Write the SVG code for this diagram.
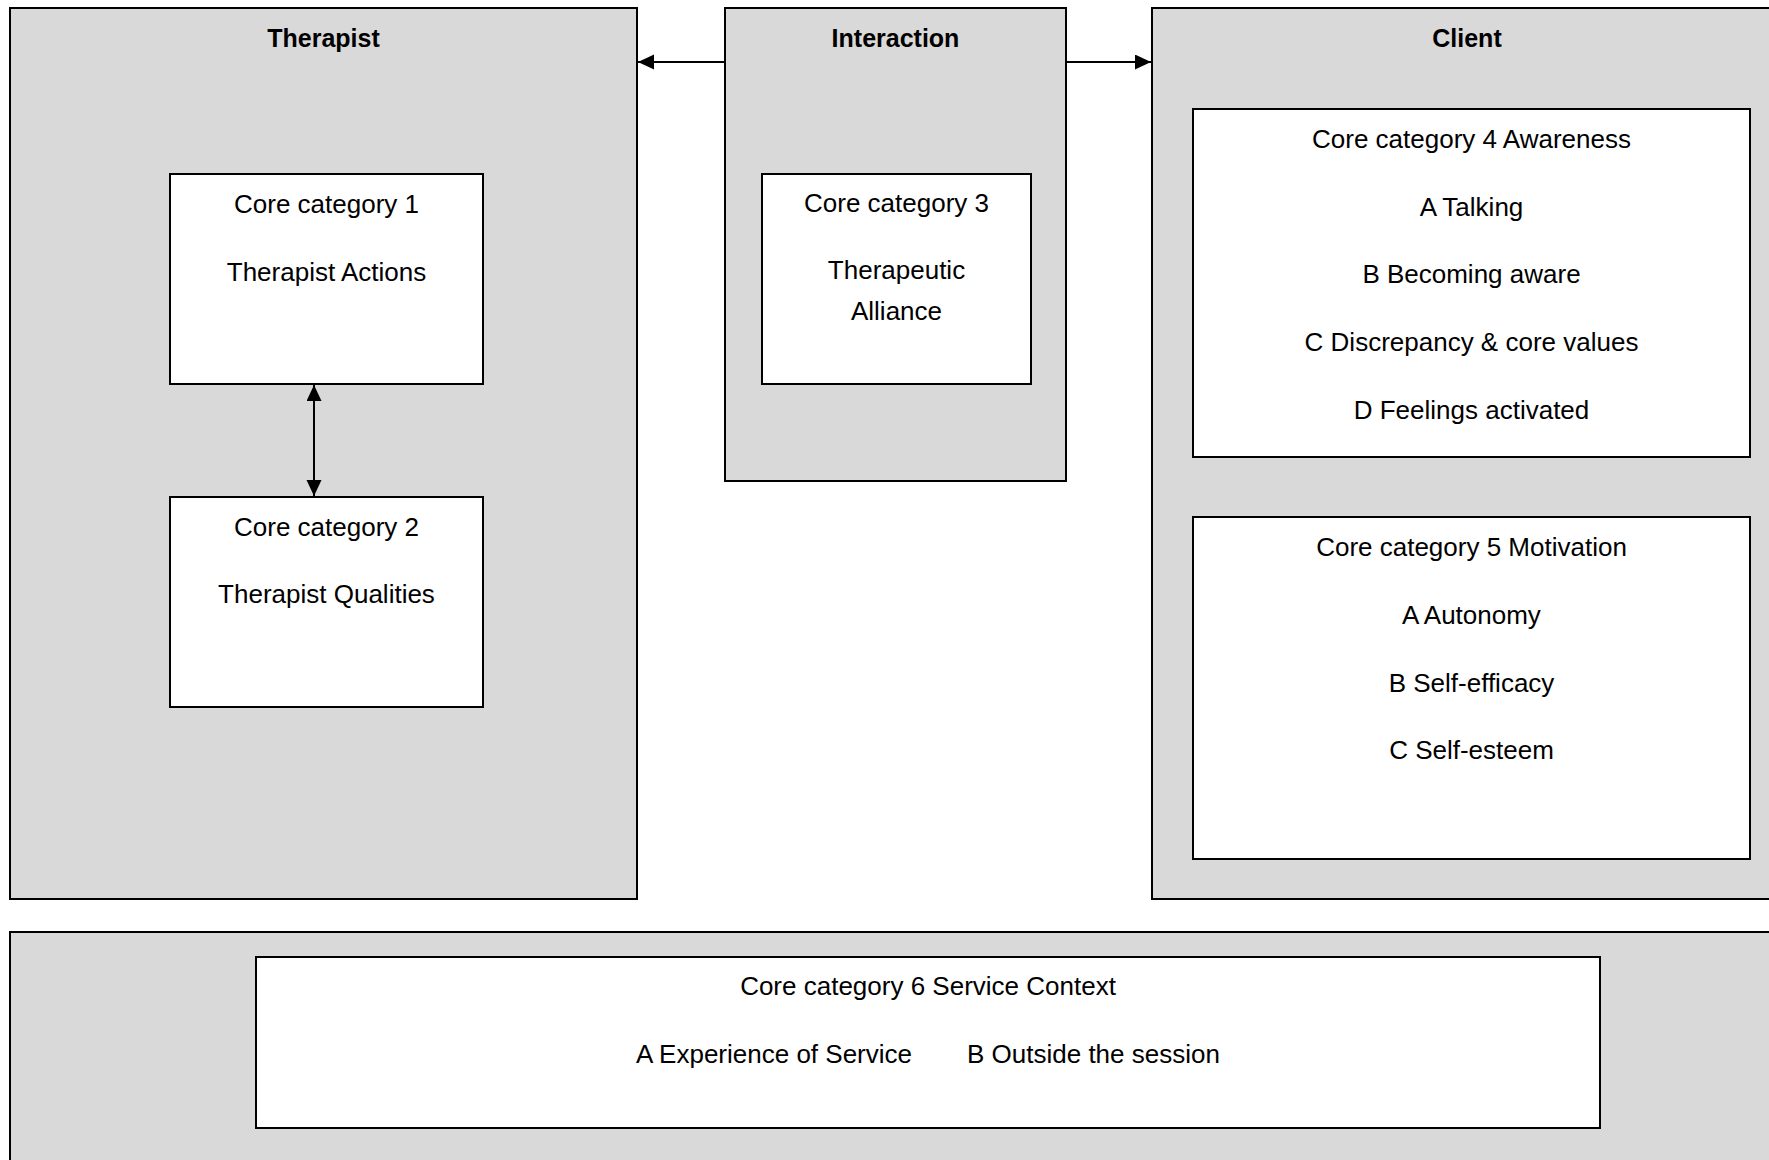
<svg xmlns="http://www.w3.org/2000/svg" width="1769" height="1160" viewBox="0 0 1769 1160">
<style>
.outer{fill:#d9d9d9;stroke:#000;stroke-width:2}
.inner{fill:#fff;stroke:#000;stroke-width:2}
text{font-family:"Liberation Sans",Arial,sans-serif;font-size:26px;fill:#000;text-anchor:middle}
.title{font-weight:bold;font-size:25px}
.conn{stroke:#000;stroke-width:2;fill:none}
</style>
<defs>
<marker id="ah" markerUnits="userSpaceOnUse" markerWidth="18" markerHeight="16" refX="16" refY="7.5" orient="auto-start-reverse">
<path d="M0,0 L16,7.5 L0,15 z" fill="#000"/>
</marker>
</defs>
<rect width="1769" height="1160" fill="#fff"/>
<g id="therapist">
<rect class="outer" x="10" y="8" width="627" height="891"/>
<text class="title" x="323.5" y="47">Therapist</text>
</g>
<g id="interaction">
<rect class="outer" x="725" y="8" width="341" height="473"/>
<text class="title" x="895.5" y="47">Interaction</text>
</g>
<g id="client">
<rect class="outer" x="1152" y="8" width="630" height="891"/>
<text class="title" x="1467" y="47">Client</text>
</g>
<g id="context">
<rect class="outer" x="10" y="932" width="1772" height="240"/>
</g>
<g id="core1">
<rect class="inner" x="170" y="174" width="313" height="210"/>
<text x="326.5" y="213">Core category 1</text>
<text x="326.5" y="281">Therapist Actions</text>
</g>
<g id="core2">
<rect class="inner" x="170" y="497" width="313" height="210"/>
<text x="326.5" y="536">Core category 2</text>
<text x="326.5" y="603">Therapist Qualities</text>
</g>
<g id="core3">
<rect class="inner" x="762" y="174" width="269" height="210"/>
<text x="896.5" y="212">Core category 3</text>
<text x="896.5" y="279">Therapeutic</text>
<text x="896.5" y="320">Alliance</text>
</g>
<g id="core4">
<rect class="inner" x="1193" y="109" width="557" height="348"/>
<text x="1471.5" y="148">Core category 4 Awareness</text>
<text x="1471.5" y="216">A Talking</text>
<text x="1471.5" y="283">B Becoming aware</text>
<text x="1471.5" y="351">C Discrepancy &amp; core values</text>
<text x="1471.5" y="419">D Feelings activated</text>
</g>
<g id="core5">
<rect class="inner" x="1193" y="517" width="557" height="342"/>
<text x="1471.5" y="556">Core category 5 Motivation</text>
<text x="1471.5" y="624">A Autonomy</text>
<text x="1471.5" y="692">B Self-efficacy</text>
<text x="1471.5" y="759">C Self-esteem</text>
</g>
<g id="core6">
<rect class="inner" x="256" y="957" width="1344" height="171"/>
<text x="928" y="995">Core category 6 Service Context</text>
<text x="912" y="1063" style="text-anchor:end">A Experience of Service</text>
<text x="967" y="1063" style="text-anchor:start">B Outside the session</text>
</g>
<g id="connectors">
<line class="conn" x1="725" y1="62" x2="638" y2="62" marker-end="url(#ah)"/>
<line class="conn" x1="1066" y1="62" x2="1151" y2="62" marker-end="url(#ah)"/>
<line class="conn" x1="314" y1="385" x2="314" y2="496" marker-start="url(#ah)" marker-end="url(#ah)"/>
</g>
</svg>
